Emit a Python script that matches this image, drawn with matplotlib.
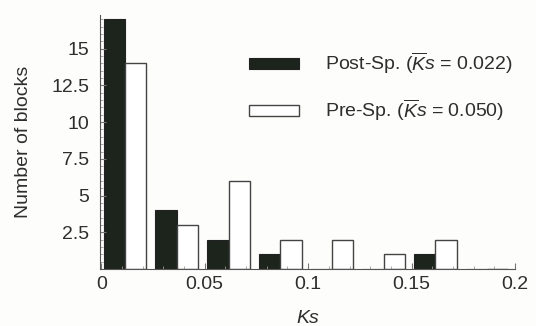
import numpy as np
import matplotlib
matplotlib.use('Agg')
import matplotlib.pyplot as plt
from matplotlib.ticker import MultipleLocator

# bins of Ks (left edges), width 0.025
bin_left = [0.0, 0.025, 0.05, 0.075, 0.1, 0.125, 0.15, 0.175]
post_sp = [17, 4, 2, 1, 0, 0, 1, 0]
pre_sp = [14, 3, 6, 2, 2, 1, 2, 0]
x_ticks = [0, 0.05, 0.1, 0.15, 0.2]
x_tick_labels = ['0', '0.05', '0.1', '0.15', '0.2']
y_ticks = [2.5, 5, 7.5, 10, 12.5, 15]
y_tick_labels = ['2.5', '5', '7.5', '10', '12.5', '15']

plt.rcParams['font.family'] = ['Liberation Sans', 'DejaVu Sans']
plt.rcParams['mathtext.fontset'] = 'custom'
plt.rcParams['mathtext.it'] = 'Liberation Sans:italic'
plt.rcParams['mathtext.rm'] = 'Liberation Sans'

txt_color = '#2e2e2e'
fs = 14
fig = plt.figure(figsize=(5.36, 3.26), dpi=100, facecolor='#fdfdfb')
ax = fig.add_axes([0.187, 0.175, 0.774, 0.779])
ax.set_facecolor('#fdfdfb')

w = 0.0103
offset = 0.0012
left = np.array(bin_left)
ax.bar(left + offset, post_sp, width=w, align='edge', color='#1c241c',
       edgecolor='#222222', linewidth=0.8, label=r'Post-Sp. ($\overline{K}s$ = 0.022)')
ax.bar(left + offset + w, pre_sp, width=w, align='edge', color='white',
       edgecolor='#444444', linewidth=1.0, label=r'Pre-Sp. ($\overline{K}s$ = 0.050)')

ax.set_xlim(-0.0005, 0.2)
ax.set_ylim(0, 17.3)
ax.spines['top'].set_visible(False)
ax.spines['right'].set_visible(False)
for s in ['left', 'bottom']:
    ax.spines[s].set_color('#555555')
    ax.spines[s].set_linewidth(0.8)

ax.set_xticks(x_ticks)
ax.set_xticklabels(x_tick_labels)
ax.set_yticks(y_ticks)
ax.set_yticklabels(y_tick_labels)
ax.xaxis.set_minor_locator(MultipleLocator(0.01))
ax.yaxis.set_minor_locator(MultipleLocator(0.5))
ax.tick_params(axis='both', which='major', direction='in', length=4, color='#777777',
               labelsize=fs, labelcolor=txt_color)
ax.tick_params(axis='x', which='major', pad=5)
ax.tick_params(axis='y', which='major', pad=8)
ax.tick_params(axis='both', which='minor', direction='in', length=2, color='#999999')

ax.set_xlabel('Ks', fontsize=fs, style='italic', color=txt_color, labelpad=12)
ax.set_ylabel('Number of blocks', fontsize=fs, color=txt_color, labelpad=14)

leg = ax.legend(loc='upper left', bbox_to_anchor=(0.316, 0.93), frameon=False,
                fontsize=fs, handlelength=2.6, handleheight=0.5, labelspacing=1.1,
                handletextpad=1.3)
for t in leg.get_texts():
    t.set_color(txt_color)

fig.savefig('out.png', dpi=100, facecolor=fig.get_facecolor())
